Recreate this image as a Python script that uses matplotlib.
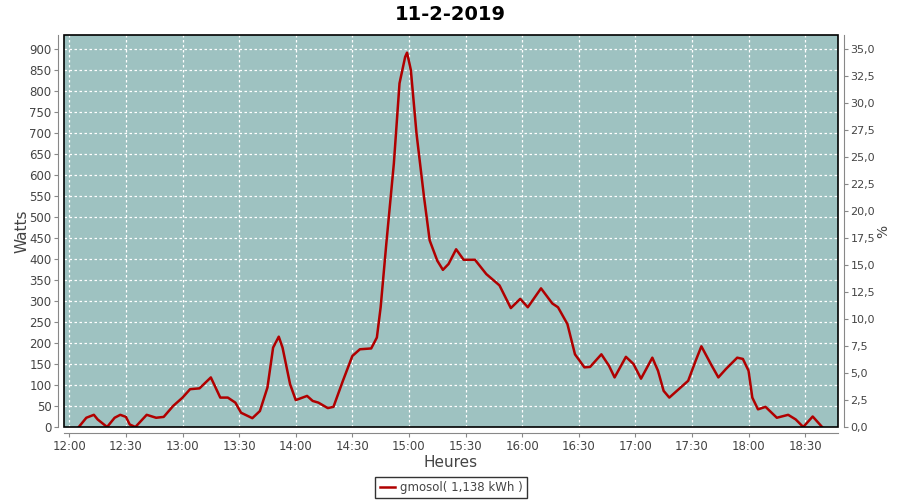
import matplotlib
matplotlib.use("Agg")
import matplotlib.pyplot as plt
import matplotlib.dates as mdates
from matplotlib.ticker import MultipleLocator, FuncFormatter
from matplotlib.patches import Rectangle
import pandas as pd

# puissance mesuree (W) au cours de la journee
heures = ["12:05", "12:09", "12:13", "12:15", "12:20", "12:24", "12:27", "12:30",
          "12:32", "12:35", "12:41", "12:46", "12:50", "12:55", "13:00", "13:04",
          "13:09", "13:15", "13:20", "13:24", "13:28", "13:31", "13:37", "13:41",
          "13:45", "13:48", "13:51", "13:53", "13:57", "14:00", "14:06", "14:09",
          "14:12", "14:17", "14:20", "14:25", "14:30", "14:34", "14:40", "14:43",
          "14:45", "14:48", "14:52", "14:55", "14:58", "14:59", "15:01", "15:04",
          "15:08", "15:11", "15:15", "15:18", "15:21", "15:25", "15:29", "15:35",
          "15:41", "15:48", "15:54", "15:59", "16:03", "16:10", "16:16", "16:19",
          "16:24", "16:28", "16:33", "16:36", "16:42", "16:46", "16:49", "16:55",
          "16:59", "17:03", "17:09", "17:12", "17:15", "17:18", "17:24", "17:28",
          "17:32", "17:35", "17:40", "17:44", "17:48", "17:54", "17:57", "18:00",
          "18:02", "18:05", "18:09", "18:15", "18:21", "18:25", "18:29", "18:34",
          "18:39"]
watts = [0, 22, 29, 18, 0, 22, 29, 24, 6, 0, 29, 22, 24, 50, 70, 90,
         92, 118, 70, 70, 58, 34, 21, 38, 94, 189, 215, 189, 102, 64, 74, 62,
         58, 45, 48, 110, 169, 185, 187, 213, 285, 436, 627, 818, 881, 891, 850, 699,
         547, 444, 396, 374, 388, 423, 398, 398, 364, 337, 283, 305, 285, 330, 294, 285,
         245, 173, 142, 143, 173, 146, 118, 167, 150, 115, 165, 134, 86, 70, 94, 110,
         158, 192, 150, 118, 138, 165, 162, 134, 70, 42, 48, 22, 29, 18, 0, 25,
         0]
legende = "gmosol( 1,138 kWh )"
titre = "11-2-2019"

t = pd.to_datetime(["2019-02-11 " + h for h in heures])

fig = plt.figure(figsize=(9, 5), dpi=100)
ax = fig.add_axes([64 / 900, 73 / 500, 774 / 900, 392 / 500])
ax.set_facecolor("#9ec2c1")

ax.plot(t, watts, color="#b00000", lw=1.8, label=legende)

ymax = 933
ax.set_ylim(0, ymax)
ax.set_xlim(pd.Timestamp("2019-02-11 11:57:10"), pd.Timestamp("2019-02-11 18:47:25"))
ax.yaxis.set_major_locator(MultipleLocator(50))
ax.xaxis.set_major_locator(mdates.MinuteLocator(byminute=[0, 30]))
ax.xaxis.set_major_formatter(mdates.DateFormatter("%H:%M"))

ax.grid(True, color="white", ls=(0, (2, 2)), lw=0.9)

gris = "#888888"
for s in ["left", "bottom"]:
    ax.spines[s].set_position(("outward", 4))
    ax.spines[s].set_color(gris)
ax.spines["top"].set_visible(False)
ax.spines["right"].set_visible(False)
ax.add_patch(Rectangle((0, 0), 1, 1, transform=ax.transAxes, fill=False,
                       edgecolor="black", lw=1.2, zorder=5, clip_on=False))
ax.tick_params(colors=gris, labelcolor="#444444", labelsize=8.5, length=3, pad=2)

ax2 = ax.twinx()
ax2.set_ylim(0, ymax * 35 / 900)
ax2.yaxis.set_major_locator(MultipleLocator(2.5))
ax2.yaxis.set_major_formatter(FuncFormatter(lambda v, p: ("%.1f" % v).replace(".", ",")))
for s in ["left", "top", "bottom"]:
    ax2.spines[s].set_visible(False)
ax2.spines["right"].set_position(("outward", 4))
ax2.spines["right"].set_color(gris)
ax2.tick_params(colors=gris, labelcolor="#444444", labelsize=8, length=3, pad=2)

ax.set_ylabel("Watts", fontsize=11, color="#444444", labelpad=0)
ax2.set_ylabel("%", fontsize=10, color="#444444", labelpad=1)
ax.set_xlabel("Heures", fontsize=11, color="#444444", labelpad=2)
fig.text(0.5, 0.972, titre, ha="center", va="center", fontsize=14, fontweight="bold")

leg = ax.legend(loc="upper center", bbox_to_anchor=(0.5, -0.1276), frameon=True,
                fancybox=False, fontsize=8.5, handlelength=1.3, borderpad=0.35,
                handletextpad=0.4, borderaxespad=0)
leg.get_frame().set_edgecolor("black")
for txt in leg.get_texts():
    txt.set_color("#444444")

fig.savefig("out.png", dpi=100)
